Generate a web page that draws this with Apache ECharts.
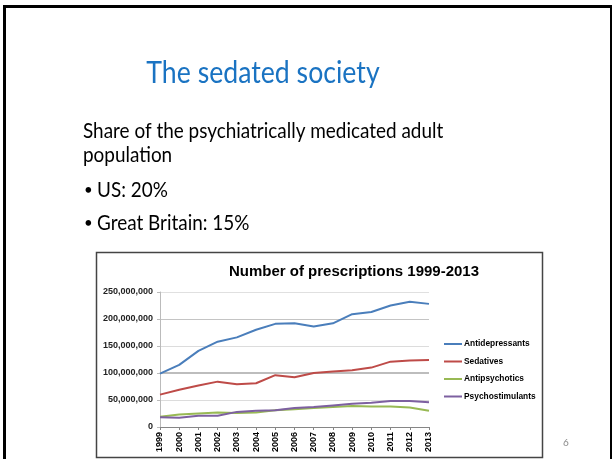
<!DOCTYPE html>
<html>
<head>
<meta charset="utf-8">
<script src="https://cdn.jsdelivr.net/npm/echarts@6/dist/echarts.min.js"></script>
<style>
  html, body { margin: 0; padding: 0; background: #fff; }
  #chart { width: 613px; height: 459px; }
</style>
</head>
<body>
<div id="chart"></div>
<script>
// data
const years = ['1999', '2000', '2001', '2002', '2003', '2004', '2005', '2006', '2007', '2008', '2009', '2010', '2011', '2012', '2013']
const antidepressants = [99, 115, 141, 158, 166, 180, 191, 192, 186, 192, 209, 213, 225, 232, 228].map(v => v * 1e6)
const sedatives = [60, 69, 77, 84, 79, 81, 96, 92, 100, 103, 105, 110, 121, 123, 124].map(v => v * 1e6)
const antipsychotics = [19, 23, 25, 27, 26, 27, 31, 33, 35, 37, 39, 38, 38, 36, 30].map(v => v * 1e6)
const psychostimulants = [18, 17, 21, 21, 28, 30, 31, 35, 37, 40, 43, 45, 48, 48, 46].map(v => v * 1e6)
const seriesNames = ['Antidepressants', 'Sedatives', 'Antipsychotics', 'Psychostimulants']
const colors = ['#4a7ebb', '#be4b48', '#98b954', '#7d60a0']

const slideTitle = 'The sedated society'
const bodyLines = ['Share of the psychiatrically medicated adult', 'population']
const bullets = ['US: 20%', 'Great Britain: 15%']

const chart = echarts.init(document.getElementById('chart'))

const mkSeries = (name, data, i) => ({
  name: name,
  type: 'line',
  data: data,
  symbol: 'none',
  lineStyle: { width: 2, color: colors[i] },
  itemStyle: { color: colors[i] },
  z: 3
})

// Lato is wider than Calibri, squeeze it a bit
const sx = 0.86
const bodyFont = '22px Lato'

const series = [
  mkSeries(seriesNames[0], antidepressants, 0),
  mkSeries(seriesNames[1], sedatives, 1),
  mkSeries(seriesNames[2], antipsychotics, 2),
  mkSeries(seriesNames[3], psychostimulants, 3)
]
// the 100,000,000 gridline is heavier in the picture
series[0].markLine = {
  silent: true,
  symbol: 'none',
  label: { show: false },
  lineStyle: { color: '#bdbdbd', width: 2, type: 'solid' },
  z: 1,
  data: [{ yAxis: 100000000 }]
}

chart.setOption({
  animation: false,
  title: {
    text: 'Number of prescriptions 1999-2013',
    left: 349,
    top: 259,
    textAlign: 'center',
    textStyle: { fontFamily: 'Liberation Sans', fontSize: 15, fontWeight: 'bold', color: '#000' }
  },
  legend: {
    orient: 'vertical',
    left: 444,
    top: 340,
    padding: 0,
    icon: 'rect',
    itemWidth: 18,
    itemHeight: 2,
    itemGap: 9.5,
    textStyle: { fontFamily: 'Liberation Sans', fontSize: 8.4, fontWeight: 'bold', color: '#000', padding: [0, 0, 0, -3] },
    data: seriesNames
  },
  grid: { left: 160, right: 184, top: 292, bottom: 32, containLabel: false },
  xAxis: {
    type: 'category',
    data: years,
    boundaryGap: false,
    axisLine: { lineStyle: { color: '#868686', width: 1 } },
    axisTick: { show: true, alignWithLabel: true, length: 3, lineStyle: { color: '#868686' } },
    axisLabel: {
      rotate: 90,
      interval: 0,
      margin: 5,
      fontFamily: 'Liberation Sans',
      fontSize: 9,
      fontWeight: 'bold',
      color: '#000'
    }
  },
  yAxis: {
    type: 'value',
    min: 0,
    max: 250000000,
    interval: 50000000,
    axisLine: { show: true, lineStyle: { color: '#bbbbbb' } },
    axisTick: { show: true, length: 3, lineStyle: { color: '#bbbbbb' } },
    splitLine: { lineStyle: { color: ['#d9d9d9', '#dcdcdc', '#bdbdbd', '#dcdcdc', '#c4c4c4', '#e0e0e0'], width: 1 } },
    axisLabel: {
      margin: 7,
      fontFamily: 'Liberation Sans',
      fontSize: 9,
      fontWeight: 'bold',
      color: '#222',
      formatter: v => v.toLocaleString('en-US')
    }
  },
  series: series,
  graphic: [
    // slide frame
    { type: 'rect', shape: { x: 3, y: 5, width: 3, height: 454 }, style: { fill: '#000' } },
    { type: 'rect', shape: { x: 3, y: 5, width: 609, height: 3 }, style: { fill: '#000' } },
    { type: 'rect', shape: { x: 610, y: 5, width: 2, height: 454 }, style: { fill: '#000' } },
    // chart frame
    { type: 'rect', shape: { x: 96.5, y: 252.5, width: 446, height: 205 }, style: { fill: 'none', stroke: '#444', lineWidth: 1.5 }, z: 10 },
    // slide texts
    { type: 'text', x: 263, y: 73, scaleX: sx, style: { text: slideTitle, font: '31px Lato', fill: '#1a73c2', align: 'center', verticalAlign: 'middle' } },
    { type: 'text', x: 83, y: 131, scaleX: sx, style: { text: bodyLines[0], font: bodyFont, fill: '#000', verticalAlign: 'middle' } },
    { type: 'text', x: 83, y: 155, scaleX: sx, style: { text: bodyLines[1], font: bodyFont, fill: '#000', verticalAlign: 'middle' } },
    { type: 'text', x: 84, y: 190, style: { text: '\u2022', font: '15px Lato', fill: '#000', verticalAlign: 'middle' } },
    { type: 'text', x: 97, y: 190, scaleX: sx, style: { text: bullets[0], font: bodyFont, fill: '#000', verticalAlign: 'middle' } },
    { type: 'text', x: 84, y: 223, style: { text: '\u2022', font: '15px Lato', fill: '#000', verticalAlign: 'middle' } },
    { type: 'text', x: 97, y: 223, scaleX: sx, style: { text: bullets[1], font: bodyFont, fill: '#000', verticalAlign: 'middle' } },
    { type: 'text', x: 563, y: 443, style: { text: '6', font: '10px Lato', fill: '#8a8a8a', verticalAlign: 'middle' } }
  ]
})
</script>
</body>
</html>
